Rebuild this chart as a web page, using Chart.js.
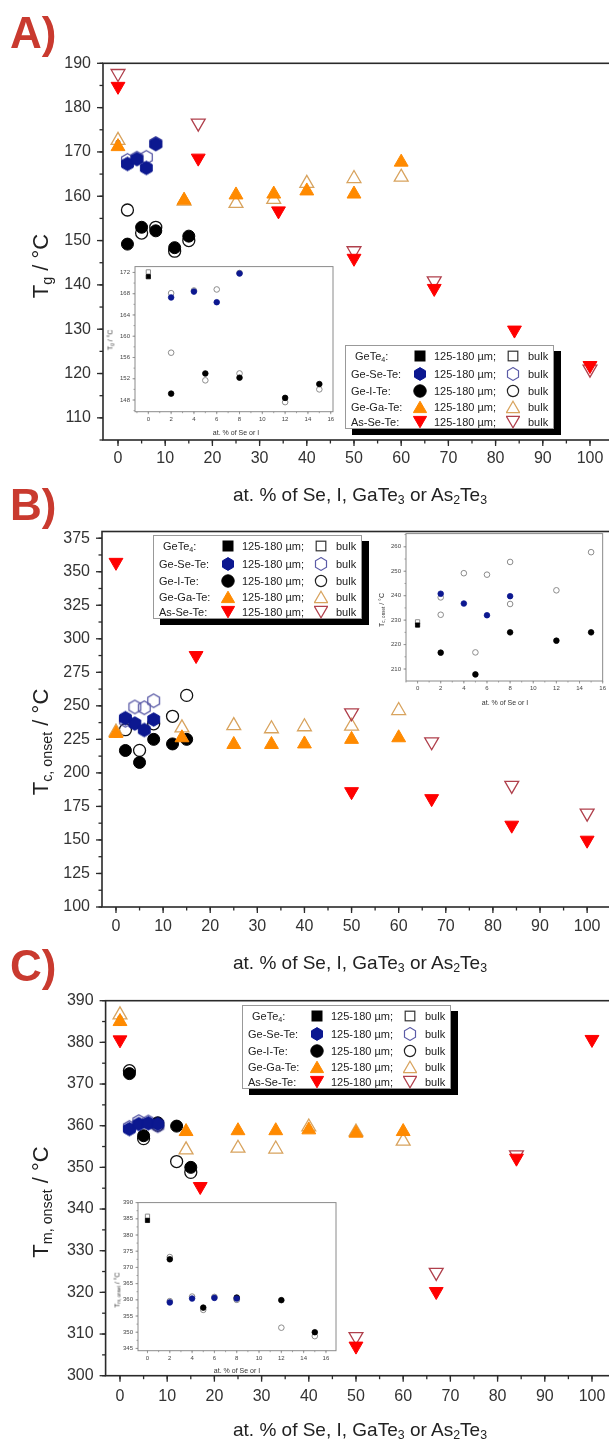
<!DOCTYPE html>
<html>
<head>
<meta charset="utf-8">
<script src="https://cdn.jsdelivr.net/npm/chart.js@4.4.1/dist/chart.umd.min.js"></script>
<style>
html, body { margin:0; padding:0; background:#fff; }
body { width:609px; height:1444px; overflow:hidden; position:relative; font-family:"Liberation Sans", Arial, sans-serif; color:#222; }
canvas { position:absolute; }
.tag { position:absolute; left:10px; font-weight:bold; font-size:44px; line-height:44px; color:#c93a2f; }
.ytitle { position:absolute; font-size:22px; line-height:22px; white-space:nowrap; transform:translate(-50%,-50%) rotate(-90deg); }
.xtitle { position:absolute; font-size:19px; line-height:19px; white-space:nowrap; transform:translate(-50%,-50%); }
.ititle { position:absolute; font-size:7px; line-height:7px; white-space:nowrap; color:#333; transform:translate(-50%,-50%); }
.ititle.rot { transform:translate(-50%,-50%) rotate(-90deg); }
sub { font-size:65%; vertical-align:-0.28em; line-height:0; }
.legend { position:absolute; width:207px; height:82px; background:#fff; border:1px solid #999; box-shadow:7px 6px 0 #000; font-size:11px; }
.legend span { position:absolute; line-height:14px; white-space:nowrap; }
.legend span.s { line-height:0; }
</style>
</head>
<body>
<canvas id="cA" width="630" height="480" style="left:0;top:0"></canvas>
<canvas id="cB" width="630" height="450" style="left:0;top:490px"></canvas>
<canvas id="cC" width="630" height="484" style="left:0;top:960px"></canvas>
<canvas id="iA" width="245" height="182" style="left:100px;top:258px"></canvas>
<canvas id="iB" width="240" height="185" style="left:370px;top:525px"></canvas>
<canvas id="iC" width="245" height="181" style="left:102px;top:1194px"></canvas>

<div class="tag" style="top:11px">A)</div>
<div class="tag" style="top:483px">B)</div>
<div class="tag" style="top:944px">C)</div>

<div class="ytitle" style="left:41px;top:266px">T<sub>g</sub> / °C</div>
<div class="ytitle" style="left:41px;top:742px">T<sub>c, onset</sub> / °C</div>
<div class="ytitle" style="left:41px;top:1202px">T<sub>m, onset</sub> / °C</div>

<div class="xtitle" style="left:360px;top:494px">at. % of Se, I, GaTe<sub>3</sub> or As<sub>2</sub>Te<sub>3</sub></div>
<div class="xtitle" style="left:360px;top:962px">at. % of Se, I, GaTe<sub>3</sub> or As<sub>2</sub>Te<sub>3</sub></div>
<div class="xtitle" style="left:360px;top:1429px">at. % of Se, I, GaTe<sub>3</sub> or As<sub>2</sub>Te<sub>3</sub></div>

<div class="ititle" style="left:236px;top:432px">at. % of Se or I</div>
<div class="ititle rot" style="left:110px;top:340px">T<sub>g</sub> / °C</div>
<div class="ititle" style="left:505px;top:702px">at. % of Se or I</div>
<div class="ititle rot" style="left:381px;top:610px">T<sub>c, onset</sub> / °C</div>
<div class="ititle" style="left:237px;top:1370px">at. % of Se or I</div>
<div class="ititle rot" style="left:117px;top:1290px">T<sub>m, onset</sub> / °C</div>

<script>
// composition (at. %) of each glass series
const xGeTe4 = [0];
const xGeSeTe = [2, 4, 6, 8];
const xGeITe = [2, 5, 8, 12, 15];
const xGeGaTe = [0, 14, 25, 33, 40, 50, 60];
const xAsSeTe = [0, 17, 34, 50, 67, 84, 100];

// A) Tg, powder (125-180 um) and bulk
const tgGeTe4Pow = [171.2];
const tgGeTe4Bulk = [172.1];
const tgGeSeTePow = [167.3, 168.4, 166.4, 171.8];
const tgGeSeTeBulk = [168.1, 168.6, 168.8, 171.9];
const tgGeITePow = [149.2, 153.0, 152.2, 148.4, 151.0];
const tgGeITeBulk = [156.9, 151.7, 153.0, 147.6, 150.0];
const tgGeGaTePow = [171.2, 159.1, 160.3, 160.5, 161.2, 160.5, 167.7];
const tgGeGaTeBulk = [172.6, 158.9, 158.4, 159.3, 162.9, 164.0, 164.3];
const tgAsSeTePow = [184.8, 168.6, 156.7, 146.0, 139.2, 129.8, 121.8];
const tgAsSeTeBulk = [187.7, 176.5, null, 147.7, 140.9, null, 121.0];

// B) Tc onset
const tcGeTe4Pow = [228.0];
const tcGeTe4Bulk = [229.3];
const tcGeSeTePow = [240.8, 236.8, 232.0, 239.8];
const tcGeSeTeBulk = [239.3, 249.2, 248.6, 253.8];
const tcGeITePow = [216.7, 207.8, 225.0, 221.6, 225.0];
const tcGeITeBulk = [232.2, 216.8, 236.6, 242.2, 257.8];
const tcGeGaTePow = [229.4, 226.2, 221.2, 221.2, 221.6, 225.0, 226.2];
const tcGeGaTeBulk = [230.5, 233.6, 235.3, 232.9, 234.4, 234.8, 246.5];
const tcAsSeTePow = [357.0, 287.5, null, 186.0, 180.8, 161.0, 149.8];
const tcAsSeTeBulk = [null, null, null, 244.8, 223.2, 190.7, 170.0];

// C) Tm onset
const tmGeTe4Pow = [384.5];
const tmGeTe4Bulk = [385.8];
const tmGeSeTePow = [359.2, 360.4, 360.6, 360.4];
const tmGeSeTeBulk = [359.6, 361.0, 360.9, 360.0];
const tmGeITePow = [372.5, 357.6, 360.7, 359.9, 350.0];
const tmGeITeBulk = [373.2, 356.9, 360.1, 351.4, 348.8];
const tmGeGaTePow = [385.0, 358.6, 358.8, 358.8, 359.0, 358.2, 358.6];
const tmGeGaTeBulk = [386.6, 354.2, 354.6, 354.4, 359.7, 358.5, 356.3];
const tmAsSeTePow = [380.6, 345.4, null, 307.1, 320.2, 352.2, 380.7];
const tmAsSeTeBulk = [null, null, null, 309.4, 324.8, 353.0, null];

const legendNames = ['GeTe<sub>4</sub>:', 'Ge-Se-Te:', 'Ge-I-Te:', 'Ge-Ga-Te:', 'As-Se-Te:'];

const NAVY = '#0c1890', NAVY_O = '#5a5aa6';
const ORG = '#ff8a00', ORG_O = '#d8a35e';
const RED = '#ff0000', RED_O = '#b0404c';
const GRAY = '#8c8c8c';

Chart.defaults.font.family = '"Liberation Sans", Arial, sans-serif';
Chart.defaults.color = '#222';

const pts = (xs, ys) => xs.map((x, i) => ({x: x, y: ys[i]})).filter(p => p.y !== null);
const fmt = v => String(+v.toFixed(2) + 0);

function hexImg(r, color, filled, lw) {
    const c = document.createElement('canvas');
    const s = Math.ceil(r * 2 + 3);
    c.width = s; c.height = s;
    const g = c.getContext('2d');
    g.beginPath();
    for (let i = 0; i < 6; i++) {
        const a = -Math.PI / 2 + i * Math.PI / 3;
        const px = s / 2 + r * Math.cos(a), py = s / 2 + r * Math.sin(a);
        if (i) g.lineTo(px, py); else g.moveTo(px, py);
    }
    g.closePath();
    if (filled) { g.fillStyle = color; g.fill(); }
    g.strokeStyle = color; g.lineWidth = lw; g.stroke();
    return c;
}

// frame round the plot area + outward ticks on left and bottom
const frame = {
    id: 'frame',
    beforeDatasetsDraw(chart, args, o) {
        const {ctx, chartArea: a} = chart;
        const sx = chart.scales.x, sy = chart.scales.y;
        ctx.save();
        if (o.bg) {
            ctx.fillStyle = o.bg;
            ctx.fillRect(a.left, a.top, a.right - a.left, a.bottom - a.top);
        }
        ctx.strokeStyle = o.color;
        ctx.lineWidth = o.tickWidth;
        const ticks = (scale, step, len, horiz) => {
            for (let i = Math.ceil(scale.min / step - 1e-9); i * step <= scale.max + 1e-9; i++) {
                const p = scale.getPixelForValue(i * step);
                ctx.beginPath();
                if (horiz) { ctx.moveTo(p, a.bottom); ctx.lineTo(p, a.bottom + len); }
                else { ctx.moveTo(a.left, p); ctx.lineTo(a.left - len, p); }
                ctx.stroke();
            }
        };
        ticks(sx, o.xMinor, o.minorLen, true);
        ticks(sx, o.xMajor, o.majorLen, true);
        ticks(sy, o.yMinor, o.minorLen, false);
        ticks(sy, o.yMajor, o.majorLen, false);
        ctx.lineWidth = o.width;
        ctx.strokeRect(a.left, a.top, a.right - a.left, a.bottom - a.top);
        ctx.restore();
    }
};

function mainSets(geP, geB, seP, seB, iP, iB, gaP, gaB, asP, asB) {
    const hexF = hexImg(6.8, NAVY, true, 1);
    const hexO = hexImg(6.8, NAVY_O, false, 1.3);
    const none = 'rgba(0,0,0,0)';
    return [
        {data: pts(xGeSeTe, seP), pointStyle: hexF, pointRadius: 7},
        {data: pts(xAsSeTe, asP), pointStyle: 'triangle', pointRotation: 180, pointRadius: 8,
            pointBackgroundColor: RED, pointBorderColor: RED, pointBorderWidth: 1},
        {data: pts(xGeGaTe, gaP), pointStyle: 'triangle', pointRadius: 8,
            pointBackgroundColor: ORG, pointBorderColor: ORG, pointBorderWidth: 1},
        {data: pts(xGeITe, iP), pointStyle: 'circle', pointRadius: 6,
            pointBackgroundColor: '#000', pointBorderColor: '#000', pointBorderWidth: 1},
        {data: pts(xGeTe4, geP), pointStyle: 'rect', pointRadius: 2.5,
            pointBackgroundColor: '#000', pointBorderColor: '#000', pointBorderWidth: 1},
        {data: pts(xGeSeTe, seB), pointStyle: hexO, pointRadius: 7},
        {data: pts(xAsSeTe, asB), pointStyle: 'triangle', pointRotation: 180, pointRadius: 8,
            pointBackgroundColor: none, pointBorderColor: RED_O, pointBorderWidth: 1.3},
        {data: pts(xGeGaTe, gaB), pointStyle: 'triangle', pointRadius: 8,
            pointBackgroundColor: none, pointBorderColor: ORG_O, pointBorderWidth: 1.3},
        {data: pts(xGeITe, iB), pointStyle: 'circle', pointRadius: 6,
            pointBackgroundColor: none, pointBorderColor: '#111', pointBorderWidth: 1.3},
        {data: pts(xGeTe4, geB), pointStyle: 'rect', pointRadius: 2.5,
            pointBackgroundColor: none, pointBorderColor: '#222', pointBorderWidth: 1}
    ];
}

function insetSets(geP, geB, seP, seB, iP, iB) {
    return [
        {data: pts(xGeSeTe, seP), pointStyle: 'circle', pointRadius: 2.8,
            pointBackgroundColor: NAVY, pointBorderColor: NAVY, pointBorderWidth: 0.8},
        {data: pts(xGeITe, iP), pointStyle: 'circle', pointRadius: 2.8,
            pointBackgroundColor: '#000', pointBorderColor: '#000', pointBorderWidth: 0.8},
        {data: pts(xGeTe4, geP), pointStyle: 'rect', pointRadius: 3,
            pointBackgroundColor: '#000', pointBorderColor: '#000', pointBorderWidth: 0.8},
        {data: pts(xGeSeTe, seB), pointStyle: 'circle', pointRadius: 2.8,
            pointBackgroundColor: '#fff', pointBorderColor: GRAY, pointBorderWidth: 1},
        {data: pts(xGeITe, iB), pointStyle: 'circle', pointRadius: 2.8,
            pointBackgroundColor: '#fff', pointBorderColor: GRAY, pointBorderWidth: 1},
        {data: pts(xGeTe4, geB), pointStyle: 'rect', pointRadius: 3,
            pointBackgroundColor: '#fff', pointBorderColor: GRAY, pointBorderWidth: 1}
    ];
}

function makeChart(id, datasets, g) {
    const axis = (min, max, step, pad, fit) => ({
        type: 'linear', min: min, max: max, afterFit: fit,
        grid: {display: false, drawTicks: false}, border: {display: false},
        ticks: {stepSize: step, includeBounds: false, autoSkip: false, maxRotation: 0,
            padding: pad, color: g.tickColor, font: {size: g.font}, callback: fmt}
    });
    return new Chart(document.getElementById(id), {
        type: 'scatter',
        data: {datasets: datasets},
        plugins: [frame],
        options: {
            responsive: false, animation: false, events: [],
            layout: {padding: {top: g.padTop, right: g.padRight, left: 0, bottom: 0}},
            plugins: {legend: {display: false}, tooltip: {enabled: false}, frame: g.frame},
            scales: {
                x: axis(g.x[0], g.x[1], g.x[2], g.xPad, s => { s.height = g.xH; }),
                y: axis(g.y[0], g.y[1], g.y[2], g.yPad, s => { s.width = g.yW; })
            }
        }
    });
}

const mainFrame = (yMajor, yMinor) => ({color: '#2a2a2a', width: 1.6, tickWidth: 1.3,
    majorLen: 6, minorLen: 3.5, xMajor: 10, xMinor: 5, yMajor: yMajor, yMinor: yMinor});
const insetFrame = (yMajor, yMinor) => ({bg: '#fff', color: '#8a8a8a', width: 1, tickWidth: 0.8,
    majorLen: 2.5, minorLen: 1.5, xMajor: 2, xMinor: 1, yMajor: yMajor, yMinor: yMinor});

makeChart('cA', mainSets(tgGeTe4Pow, tgGeTe4Bulk, tgGeSeTePow, tgGeSeTeBulk, tgGeITePow, tgGeITeBulk,
    tgGeGaTePow, tgGeGaTeBulk, tgAsSeTePow, tgAsSeTeBulk), {
    padTop: 63.3, padRight: 11.7, yW: 103, xH: 40, font: 16, tickColor: '#333', xPad: 9, yPad: 12,
    x: [-3.18, 106, 10], y: [105, 190, 10], frame: mainFrame(10, 5)});

makeChart('cB', mainSets(tcGeTe4Pow, tcGeTe4Bulk, tcGeSeTePow, tcGeSeTeBulk, tcGeITePow, tcGeITeBulk,
    tcGeGaTePow, tcGeGaTeBulk, tcAsSeTePow, tcAsSeTeBulk), {
    padTop: 41.5, padRight: 14.6, yW: 102, xH: 33, font: 16, tickColor: '#333', xPad: 10, yPad: 12,
    x: [-2.97, 106, 10], y: [100, 380, 25], frame: mainFrame(25, 12.5)});

makeChart('cC', mainSets(tmGeTe4Pow, tmGeTe4Bulk, tmGeSeTePow, tmGeSeTeBulk, tmGeITePow, tmGeITeBulk,
    tmGeGaTePow, tmGeGaTeBulk, tmAsSeTePow, tmAsSeTeBulk), {
    padTop: 40.7, padRight: 9.7, yW: 105.6, xH: 68.3, font: 16, tickColor: '#333', xPad: 11, yPad: 12,
    x: [-3.05, 106, 10], y: [300, 390, 10], frame: mainFrame(10, 5)});

makeChart('iA', insetSets(tgGeTe4Pow, tgGeTe4Bulk, tgGeSeTePow, tgGeSeTeBulk, tgGeITePow, tgGeITeBulk), {
    padTop: 8, padRight: 12, yW: 35, xH: 28.3, font: 6, tickColor: '#444', xPad: 4, yPad: 5,
    x: [-1.17, 16.2, 2], y: [145.8, 173.1, 4], frame: insetFrame(4, 2)});

makeChart('iB', insetSets(tcGeTe4Pow, tcGeTe4Bulk, tcGeSeTePow, tcGeSeTeBulk, tcGeITePow, tcGeITeBulk), {
    padTop: 8, padRight: 6, yW: 36, xH: 29, font: 6, tickColor: '#444', xPad: 4, yPad: 5,
    x: [-1, 16, 2], y: [205.1, 265.4, 10], frame: insetFrame(10, 5)});

makeChart('iC', insetSets(tmGeTe4Pow, tmGeTe4Bulk, tmGeSeTePow, tmGeSeTeBulk, tmGeITePow, tmGeITeBulk), {
    padTop: 7.7, padRight: 11, yW: 36, xH: 24.3, font: 6, tickColor: '#444', xPad: 4, yPad: 5,
    x: [-0.85, 16.9, 2], y: [344.3, 390, 5], frame: insetFrame(5, 2.5)});

// legend boxes
function sym(kind, fill, stroke) {
    const f = fill ? `fill="${fill}" stroke="${fill}"` : `fill="none" stroke="${stroke}" stroke-width="1.2"`;
    let shape;
    if (kind === 0) shape = fill ? `<rect x="2" y="2" width="10" height="10" ${f}/>` : `<rect x="2.2" y="2.2" width="9.6" height="9.6" ${f}/>`;
    else if (kind === 1) shape = `<polygon points="7,0.6 12.5,3.8 12.5,10.2 7,13.4 1.5,10.2 1.5,3.8" ${f}/>`;
    else if (kind === 2) shape = `<circle cx="7" cy="7" r="${fill ? 6.2 : 5.6}" ${f}/>`;
    else if (kind === 3) shape = `<polygon points="7,1.2 13.6,12.6 0.4,12.6" ${f}/>`;
    else shape = `<polygon points="0.4,1.4 13.6,1.4 7,12.8" ${f}/>`;
    return `<svg width="14" height="14" viewBox="0 0 14 14">${shape}</svg>`;
}
const symFill = ['#000', NAVY, '#000', ORG, RED];
const symLine = ['#333', NAVY_O, '#222', ORG_O, RED_O];
const rowY = [9.5, 28, 44.5, 60.5, 76];

function addLegend(left, top) {
    const d = document.createElement('div');
    d.className = 'legend';
    d.style.left = left + 'px';
    d.style.top = top + 'px';
    let html = '';
    legendNames.forEach((name, i) => {
        const t = rowY[i] - 7;
        html += `<span style="left:${i === 0 ? 9 : 5}px;top:${t}px">${name}</span>`;
        html += `<span class="s" style="left:67px;top:${t}px">${sym(i, symFill[i])}</span>`;
        html += `<span style="left:88px;top:${t}px">125-180 µm;</span>`;
        html += `<span class="s" style="left:160px;top:${t}px">${sym(i, null, symLine[i])}</span>`;
        html += `<span style="left:182px;top:${t}px">bulk</span>`;
    });
    d.innerHTML = html;
    document.body.appendChild(d);
}
addLegend(345, 345);
addLegend(153, 535);
addLegend(242, 1005);
</script>
</body>
</html>
